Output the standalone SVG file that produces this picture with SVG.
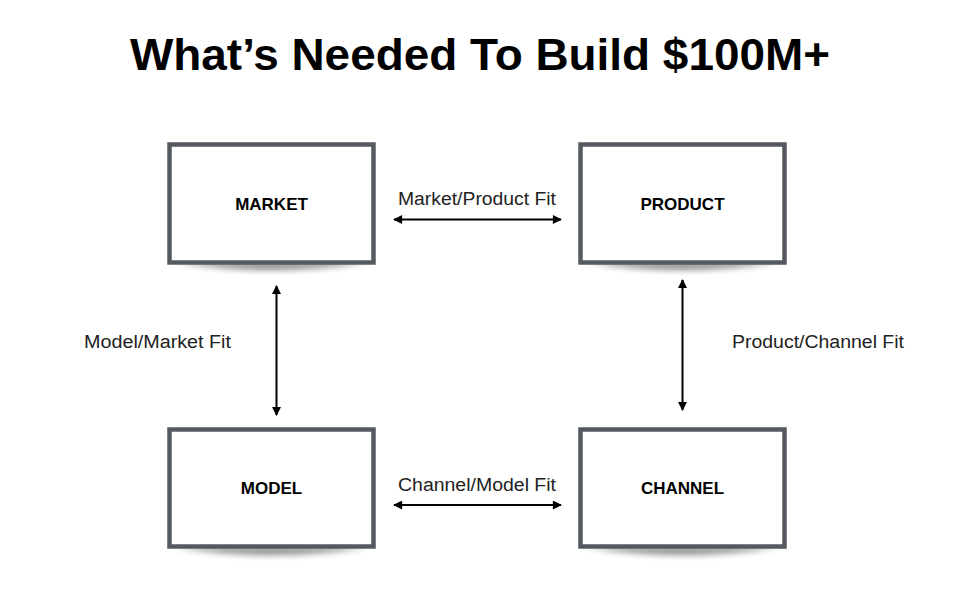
<svg xmlns="http://www.w3.org/2000/svg" width="960" height="601" viewBox="0 0 960 601">
<defs>
<style>
.box{fill:#fff;stroke:#555a61;stroke-width:4.5}
.lbl{font-family:"Liberation Sans",Arial,sans-serif;font-weight:bold;font-size:17px;fill:#000;text-anchor:middle}
.fit{font-family:"Liberation Sans",Arial,sans-serif;font-size:18px;fill:#222}
.con{stroke:#000;stroke-width:2;fill:none;marker-start:url(#ah);marker-end:url(#ah)}
.shd{fill:#000;opacity:0.45;filter:url(#blur)}
</style>
<marker id="ah" viewBox="0 0 10 10" refX="9" refY="5" markerWidth="5.5" markerHeight="4.5" orient="auto-start-reverse" markerUnits="strokeWidth">
<path d="M0,0 L10,5 L0,10 Z" fill="#000"/>
</marker>
<filter id="blur" x="-20%" y="-100%" width="140%" height="300%"><feGaussianBlur stdDeviation="3"/></filter>
</defs>
<rect width="960" height="601" fill="#fff"/>
<text x="480" y="70" font-family="'Liberation Sans',Arial,sans-serif" font-weight="bold" font-size="45" text-anchor="middle" textLength="700" lengthAdjust="spacingAndGlyphs">What’s Needed To Build $100M+</text>
<g id="market">
<path class="shd" d="M175,262 Q271,278 368,262 Z"/>
<rect class="box" x="169.5" y="144.5" width="204" height="118"/>
<text class="lbl" x="271.5" y="210">MARKET</text>
</g>
<g id="product">
<path class="shd" d="M586,262 Q682,278 779,262 Z"/>
<rect class="box" x="580.5" y="144.5" width="204" height="118"/>
<text class="lbl" x="682.5" y="210">PRODUCT</text>
</g>
<g id="model">
<path class="shd" d="M175,547 Q271,563 368,547 Z"/>
<rect class="box" x="169.5" y="429.5" width="204" height="117"/>
<text class="lbl" x="271.5" y="494">MODEL</text>
</g>
<g id="channel">
<path class="shd" d="M586,547 Q682,563 779,547 Z"/>
<rect class="box" x="580.5" y="429.5" width="204" height="117"/>
<text class="lbl" x="682.5" y="494">CHANNEL</text>
</g>
<g id="connectors">
<line class="con" x1="394" y1="219.5" x2="561" y2="219.5"/>
<line class="con" x1="394" y1="505" x2="561" y2="505"/>
<line class="con" x1="276.5" y1="286" x2="276.5" y2="415"/>
<line class="con" x1="682.5" y1="280" x2="682.5" y2="410"/>
<text class="fit" x="398" y="205" textLength="158" lengthAdjust="spacingAndGlyphs">Market/Product Fit</text>
<text class="fit" x="398" y="491" textLength="158" lengthAdjust="spacingAndGlyphs">Channel/Model Fit</text>
<text class="fit" x="84" y="348" textLength="147" lengthAdjust="spacingAndGlyphs">Model/Market Fit</text>
<text class="fit" x="732" y="348" textLength="172" lengthAdjust="spacingAndGlyphs">Product/Channel Fit</text>
</g>
</svg>
